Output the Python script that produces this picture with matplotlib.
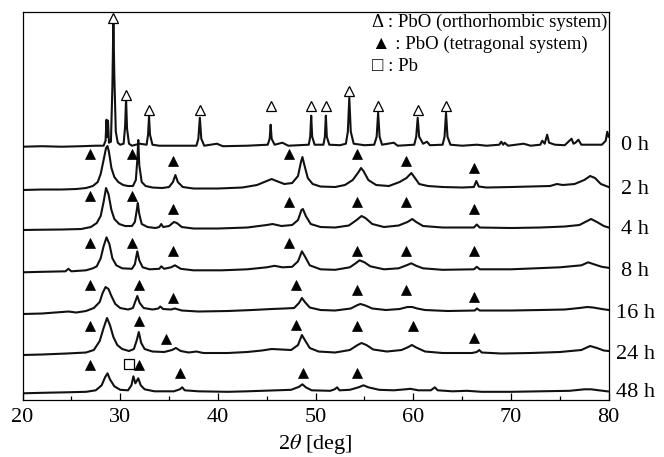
# -*- coding: utf-8 -*-
"""
XRD patterns of PbO after milling time (0 h ... 48 h)
"""

# %% imports

import numpy as np
from matplotlib import pyplot as plt

# %% data (2theta [deg], intensity above baseline, arbitrary units)

pts_0h = [(20, 0), (22, 0.5), (24, 0), (26, 0.5), (27.5, 1), (28.3, 1), (28.5, 6), (28.6, 27),
          (28.68, 10), (28.75, 26), (28.85, 4), (29.05, 5), (29.2, 60), (29.3, 126), (29.4, 70),
          (29.55, 15), (29.75, 4), (30.0, 2), (30.35, 3), (30.5, 20), (30.6, 48), (30.7, 18),
          (30.9, 3), (31.2, 1), (32.0, 3), (32.7, 2), (32.85, 12), (32.95, 30), (33.05, 12),
          (33.3, 2), (34.0, 1), (36.0, 1), (37.8, 1), (38.0, 8), (38.15, 29), (38.3, 8),
          (38.6, 1), (39.9, 3), (40.5, 0.5), (43, 1), (45.1, 2), (45.3, 8), (45.4, 22),
          (45.5, 8), (45.8, 2), (46.6, 4), (47.2, 1), (49.3, 2), (49.45, 10), (49.55, 31),
          (49.65, 10), (49.9, 2), (50.8, 2), (50.95, 10), (51.05, 31), (51.15, 10), (51.4, 2),
          (52.5, 1.5), (53.1, 3), (53.3, 15), (53.45, 49), (53.6, 15), (53.9, 3), (55.0, 1.5),
          (56.0, 2), (56.25, 10), (56.4, 34), (56.55, 10), (56.8, 2), (58.0, 4), (58.4, 1),
          (60.1, 2), (60.3, 10), (60.45, 29), (60.6, 10), (61.0, 3), (61.4, 5), (61.7, 1.5),
          (63.0, 2), (63.2, 10), (63.35, 34), (63.5, 10), (63.8, 2), (65, 1), (66.5, 2),
          (67.5, 1), (68.8, 2), (69.0, 5), (69.2, 2), (69.35, 4), (69.7, 1), (71.3, 3),
          (72, 1), (73.0, 2), (73.2, 6), (73.45, 3), (73.7, 12), (73.9, 4), (74.5, 2),
          (75.5, 1.5), (76.2, 8), (76.4, 3), (76.6, 4), (76.9, 7), (77.2, 2), (78, 2),
          (79.3, 2), (79.7, 6), (79.85, 15), (80, 10)]

pts_2h = [(20, 0), (22, 0.5), (24, 0.5), (25.5, 1), (26.5, 2), (27.2, 4), (27.7, 8), (28.0, 16),
          (28.3, 30), (28.55, 42), (28.7, 44), (28.85, 38), (29.1, 22), (29.4, 13), (29.8, 8),
          (30.3, 5), (30.8, 4), (31.3, 4), (31.6, 10), (31.75, 30), (31.85, 50), (31.95, 25),
          (32.2, 8), (32.6, 4), (33.3, 2.5), (34.3, 2), (35.0, 3), (35.4, 8), (35.65, 15),
          (35.9, 8), (36.4, 3), (37.5, 1.5), (40, 1.5), (42.5, 2.5), (44.0, 5), (45.0, 9),
          (45.5, 11), (46.0, 9), (46.8, 6), (47.6, 7), (48.2, 14), (48.5, 28), (48.65, 33),
          (48.85, 25), (49.2, 12), (49.7, 6), (50.5, 3.5), (52.0, 3), (53.0, 5), (53.8, 10),
          (54.4, 18), (54.65, 22), (54.9, 19), (55.4, 10), (56.2, 5), (57.5, 4), (58.6, 8),
          (59.3, 12), (59.8, 17), (60.1, 13), (60.6, 6), (61.5, 4), (63, 3), (65, 2.5),
          (66.2, 3), (66.45, 9), (66.7, 3.5), (67.5, 2.5), (70, 3), (72, 3.5), (74, 4),
          (74.7, 6), (75.3, 5), (76.5, 6), (77.5, 10), (78.1, 14), (78.6, 12), (79.2, 6),
          (80, 3)]

pts_4h = [(20, 0), (22, 0.3), (24, 0.5), (26, 1), (27.0, 3), (27.6, 7), (28.0, 14), (28.3, 28),
          (28.55, 42), (28.8, 36), (29.1, 20), (29.4, 11), (29.9, 6), (30.5, 4), (31.2, 4),
          (31.5, 8), (31.7, 20), (31.8, 27), (31.95, 16), (32.2, 6), (32.8, 3), (33.6, 2),
          (34.0, 3), (34.2, 6), (34.4, 3), (35.0, 4), (35.5, 8), (35.8, 7), (36.3, 3),
          (37.5, 1.5), (40, 1.5), (43, 2.5), (45, 5), (45.6, 6), (46.5, 4), (47.6, 5),
          (48.2, 10), (48.55, 20), (48.7, 21), (49.0, 14), (49.5, 6), (50.5, 3), (52, 2.5),
          (53.4, 4.5), (54.2, 10), (54.7, 14), (55.1, 12), (55.8, 6), (57, 3), (58.5, 4.5),
          (59.4, 8), (59.9, 11), (60.3, 8), (61, 4), (63, 2.5), (66.2, 2.5), (66.5, 5.5),
          (66.8, 2.5), (70, 2), (73, 2.5), (75.5, 3.5), (77, 5), (78.2, 11), (78.8, 8),
          (79.5, 4), (80, 2.5)]

pts_8h = [(20, 0), (22, 0.5), (24.4, 1), (24.7, 3.5), (25.0, 1), (26.5, 2), (27.2, 4), (27.6, 6),
          (28.0, 14), (28.3, 26), (28.6, 35), (28.9, 28), (29.2, 14), (29.6, 7), (30.2, 4),
          (31.2, 3.5), (31.5, 8), (31.75, 21), (31.95, 12), (32.3, 5), (33, 3), (34.0, 3.5),
          (34.2, 6), (34.5, 3.5), (35.2, 5), (35.6, 7), (36.2, 3.5), (37.5, 2), (40.4, 2),
          (43, 3), (45, 5), (45.8, 6.5), (46.6, 5), (47.6, 5.5), (48.2, 11), (48.6, 21),
          (48.9, 16), (49.4, 7), (50.5, 3), (52, 2.5), (53.5, 5), (54.1, 9), (54.5, 12),
          (55.0, 10), (55.6, 6), (57, 3), (58.5, 4), (59.3, 7), (59.8, 9), (60.3, 6.5),
          (61, 4), (63, 2.5), (66.2, 3), (66.5, 5.5), (66.8, 3), (70, 3), (72.5, 4), (75, 5),
          (77.2, 7), (77.9, 10), (78.5, 8), (79.3, 5.5), (80, 4.5)]

pts_16h = [(20, 0), (22, 0.5), (24.7, 2.5), (25.5, 1.5), (26.5, 3), (27.3, 6), (27.9, 12),
           (28.2, 21), (28.5, 27), (28.8, 25), (29.1, 18), (29.5, 10), (30.0, 6), (30.8, 4.5),
           (31.3, 6), (31.6, 14), (31.75, 18), (32.0, 11), (32.4, 6), (33.3, 4.5), (33.9, 5.5),
           (34.1, 7.5), (34.4, 5), (35.2, 4.5), (35.6, 5.5), (36.3, 3.5), (38, 2.5), (41, 3),
           (43.5, 4), (45.5, 5), (46.8, 5.5), (47.8, 6), (48.3, 11), (48.6, 16), (48.9, 12),
           (49.4, 6.5), (50.5, 4), (52, 3.5), (53.6, 5.5), (54.3, 9), (54.6, 10), (55.1, 8.5),
           (55.8, 5.5), (57.2, 4), (58.6, 5), (59.4, 7), (59.9, 7), (60.4, 5.5), (61.2, 4),
           (63.5, 3), (66.3, 3.5), (66.5, 5.5), (66.8, 3.5), (70, 3.5), (73, 4), (75.5, 4.5),
           (77, 6), (77.8, 7), (78.4, 6.5), (79.3, 5), (80, 4)]

pts_24h = [(20, 0), (22, 0.5), (24.5, 1.5), (26.5, 2.5), (27.3, 5), (27.9, 14), (28.3, 27),
           (28.65, 37), (28.95, 30), (29.3, 18), (29.7, 10), (30.2, 6), (30.9, 4), (31.4, 6),
           (31.7, 15), (31.9, 23), (32.15, 12), (32.5, 6), (33.3, 3.5), (34.5, 3), (35.3, 5),
           (35.7, 7), (36.2, 4), (37.0, 2.5), (37.8, 3.5), (38.5, 2), (41, 2), (43, 3),
           (44.5, 4.5), (45.5, 6), (46.5, 5.5), (47.5, 5), (48.2, 10), (48.6, 20), (48.9, 15),
           (49.4, 7), (50.3, 3.5), (52, 2.5), (53.5, 5), (54.3, 10), (54.7, 12), (55.2, 10),
           (55.9, 5.5), (57.3, 3.5), (58.8, 5), (59.5, 8), (59.85, 10), (60.3, 7.5), (61.2, 3.5),
           (63, 2), (66, 2), (66.5, 3), (66.75, 5), (67.0, 2.5), (69, 1.5), (72, 2), (75, 3),
           (77.2, 5), (78.1, 9), (78.8, 7), (79.5, 4.5), (80, 4)]

pts_48h = [(20, 0), (22, 0.5), (24.5, 1), (26.5, 1.5), (27.5, 3), (28.1, 8), (28.45, 16),
           (28.7, 20), (28.95, 14), (29.4, 7), (30.0, 3.5), (30.8, 3), (31.15, 8), (31.35, 17),
           (31.55, 10), (31.85, 15), (32.1, 8), (32.5, 4), (33.5, 2), (35.5, 2), (36.1, 4),
           (36.35, 6), (36.6, 3), (38, 2), (41, 1.5), (43, 2), (46, 3), (47.5, 3.5), (48.3, 6.5),
           (48.65, 9), (49.0, 6), (49.6, 3), (51.5, 2.5), (51.95, 4), (52.2, 6), (52.45, 3),
           (53.5, 3.5), (54.4, 6), (54.9, 8), (55.4, 6), (56.5, 3.5), (58, 3), (59.2, 4),
           (59.7, 4.5), (60.5, 3), (61.8, 3), (62.2, 6), (62.5, 3), (64, 2), (65.5, 2.5),
           (67, 1.5), (70, 1.5), (73, 2), (76, 2.5), (77.5, 4), (78.2, 4), (79, 3), (80, 1.8)]

patterns = [pts_0h, pts_2h, pts_4h, pts_8h, pts_16h, pts_24h, pts_48h]
labels = ['0 h', '2 h', '4 h', '8 h', '16 h', '24 h', '48 h']
offsets = [252.8, 209.5, 169.5, 127.2, 85.5, 44.5, 6.2]

# peak markers: open triangle = PbO orthorhombic, filled = PbO tetragonal, square = Pb
ortho_x = [29.3, 30.6, 32.95, 38.15, 45.4, 49.55, 51.05, 53.45, 56.4, 60.45, 63.35]
ortho_y = [382, 305, 290, 290, 294, 294, 294, 309, 294, 290, 294]

tetra_x = [26.9, 31.2, 35.37, 47.3, 54.27, 59.22, 66.2,
           26.9, 31.2, 35.37, 47.3, 54.27, 59.22, 66.2,
           26.9, 31.25, 35.43, 47.3, 54.27, 59.22, 66.2,
           26.9, 31.9, 35.43, 48.0, 54.27, 59.22, 66.2,
           26.9, 31.9, 34.65, 48.0, 54.27, 59.94, 66.2,
           26.9, 31.95, 36.1, 48.68, 54.27]
tetra_y = [246, 246, 239, 246, 245.5, 239, 232,
           203.5, 203.5, 190.5, 198, 198, 198, 190.5,
           157, 157, 149, 157, 149, 149, 149,
           115, 115, 102, 115, 109.5, 109.5, 102.5,
           74, 79, 61, 74.5, 74, 74, 61.5,
           34.5, 34.5, 27, 27, 27]

pb_x = [30.93]
pb_y = [35.2]

legend_rows = ['\u0394 : PbO (orthorhombic system)',
               '\u25b2 : PbO (tetragonal system)',
               '\u25a1 : Pb']

# %% plot

plt.rcParams['font.family'] = ['Liberation Serif', 'DejaVu Serif']
plt.rcParams['mathtext.fontset'] = 'stix'

fig = plt.figure(figsize=(6.64, 4.57), dpi=100)
ax = fig.add_axes([0.0339, 0.1258, 0.8828, 0.849])

for pts, off in zip(patterns, offsets):
    arr = np.array(pts)
    ax.plot(arr[:, 0], arr[:, 1] + off, color='#111111', lw=1.5, solid_joinstyle='round')

ax.plot(ortho_x, ortho_y, ls='none', marker='^', ms=7, mfc='white', mec='black', mew=0.9)
ax.plot(tetra_x, tetra_y, ls='none', marker='^', ms=7, mfc='black', mec='black', mew=0.5)
ax.plot(pb_x, pb_y, ls='none', marker='s', ms=7, mfc='white', mec='black', mew=0.9)

for lab, off in zip(labels, offsets):
    ax.text(82.7, off + 1, lab, ha='center', va='center', fontsize=16, clip_on=False)

for k, row in enumerate(legend_rows):
    ax.text(55.8, 377.5 - 22 * k, row, ha='left', va='center', fontsize=13.5)

ax.set_xlim(20, 80)
ax.set_ylim(0, 388)
ax.set_xticks(np.arange(20, 81, 10))
ax.set_xticks(np.arange(25, 80, 10), minor=True)
ax.tick_params(which='both', direction='in', top=False, right=False, left=False,
               labelleft=False, labelsize=16, pad=6)
ax.tick_params(which='major', length=5, width=0.9)
ax.tick_params(which='minor', length=3, width=0.9)
for sp in ax.spines.values():
    sp.set_linewidth(0.9)

ax.set_xlabel(r'2$\theta$ [deg]', fontsize=16, labelpad=4)

plt.savefig('out.png', dpi=100)
